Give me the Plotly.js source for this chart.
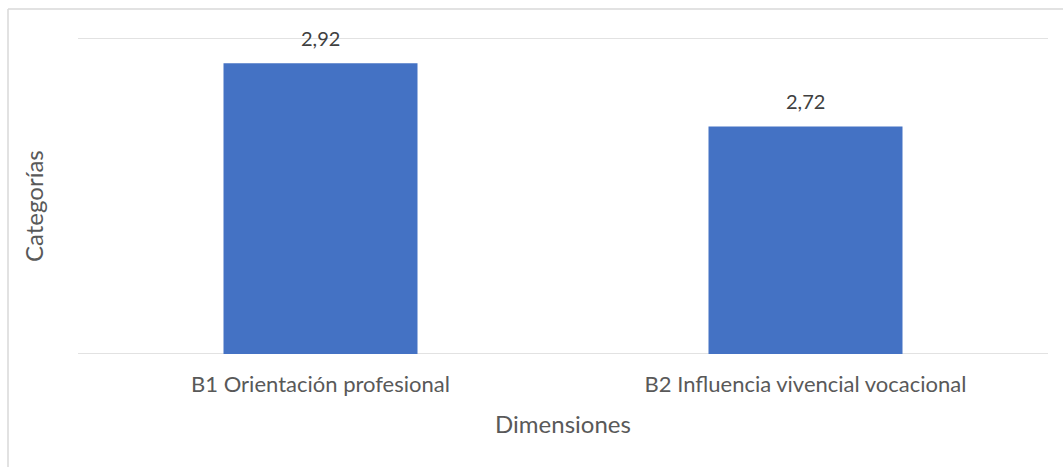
<!DOCTYPE html>
<html>
<head>
<meta charset="utf-8">
<script src="https://cdn.plot.ly/plotly-3.0.1.min.js"></script>
<style>
html,body{margin:0;padding:0;background:#fff;}
#chart{width:1063px;height:467px;}
</style>
</head>
<body>
<div id="chart"></div>
<script>
const categories = ["B1 Orientación profesional", "B2 Influencia vivencial vocacional"];
const values = [2.92, 2.72];
const valueLabels = ["2,92", "2,72"];
const yTicks = [2, 3];
const xTitle = "Dimensiones";
const yTitle = "Categorías";

const FONT = "Lato, 'Open Sans', sans-serif";
const yMin = yTicks[0];

const trace = {
  type: "bar",
  x: categories,
  y: values.map(v => v - yMin),
  base: yMin,
  marker: {color: "#4472C4"},
  width: 0.4,
  hoverinfo: "skip"
};

const annotations = categories.map((c, i) => ({
  x: c, y: values[i], xref: "x", yref: "y",
  text: valueLabels[i], showarrow: false,
  yanchor: "bottom", yshift: 11,
  font: {family: FONT, size: 20, color: "#404040"}
}));

// y-axis title drawn as a rotated annotation so it can be centred like the original
annotations.push({
  xref: "paper", yref: "paper", x: -44/970, y: 148/316,
  xanchor: "center", yanchor: "middle", textangle: -90,
  text: yTitle, showarrow: false,
  font: {family: FONT, size: 24, color: "#595959"}
});

const gridShapes = yTicks.map(t => ({
  type: "line", xref: "paper", yref: "y", x0: 0, x1: 1, y0: t, y1: t,
  layer: "below", line: {color: "#D9D9D9", width: 1.5}
}));

const layout = {
  width: 1063, height: 467,
  margin: {l: 78, r: 15, t: 38, b: 113},
  paper_bgcolor: "#fff", plot_bgcolor: "rgba(0,0,0,0)",
  showlegend: false,
  separators: ",.",
  xaxis: {
    showgrid: false, zeroline: false, showline: false, ticks: "",
    ticklabelstandoff: 15,
    tickfont: {family: FONT, size: 22, color: "#595959"},
    title: {text: xTitle, font: {family: FONT, size: 24, color: "#595959"}, standoff: 20},
    automargin: false
  },
  yaxis: {
    range: [yTicks[0], yTicks[yTicks.length - 1]], tickvals: yTicks, showticklabels: false,
    showgrid: false, zeroline: false, showline: false, ticks: "",
    automargin: false
  },
  annotations: annotations,
  shapes: gridShapes.concat([
    {type: "line", xref: "paper", yref: "paper", x0: -70/970, x1: 1.1, y0: 345/316, y1: 345/316, line: {color: "#D9D9D9", width: 1.5}},
    {type: "line", xref: "paper", yref: "paper", x0: -70/970, x1: -70/970, y0: 345/316, y1: -0.4, line: {color: "#D9D9D9", width: 1.5}}
  ])
};

Plotly.newPlot("chart", [trace], layout, {staticPlot: true, displayModeBar: false});
</script>
</body>
</html>
